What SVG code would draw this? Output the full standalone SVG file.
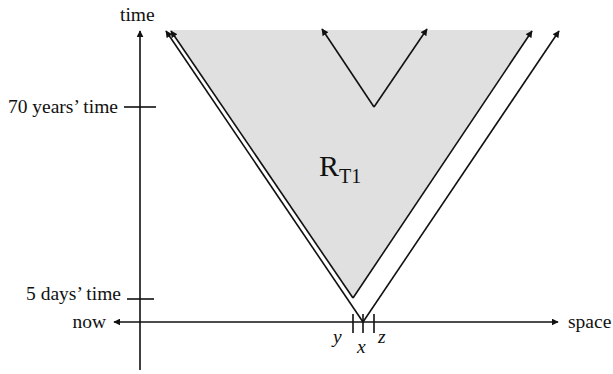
<svg xmlns="http://www.w3.org/2000/svg" width="613" height="374" viewBox="0 0 613 374">
<style>
.ln{stroke:#111;stroke-width:1.6;fill:none}
.t{font-family:"Liberation Serif",serif;font-size:19.5px;fill:#111}
.i{font-style:italic}
</style>
<defs>
<marker id="ah" viewBox="0 0 10 10" refX="9" refY="5" markerWidth="7" markerHeight="7" markerUnits="userSpaceOnUse" orient="auto-start-reverse">
<path d="M0,0 L10,5 L0,10 z" fill="#111"/>
</marker>
</defs>
<rect width="613" height="374" fill="#fff"/>
<g id="region">
<polygon points="170,30 533,30 353,298" fill="#e0e0e0"/>
<text x="319" y="176" style="font-family:'Liberation Serif',serif;font-size:30px;fill:#111">R<tspan font-size="20" dy="7">T1</tspan></text>
</g>
<g id="axes">
<line class="ln" x1="140" y1="370" x2="140" y2="31" marker-end="url(#ah)"/>
<line class="ln" x1="114" y1="322" x2="558" y2="322" marker-start="url(#ah)" marker-end="url(#ah)"/>
<line class="ln" x1="124" y1="107" x2="156" y2="107"/>
<line class="ln" x1="127" y1="299" x2="154" y2="299"/>
<line class="ln" x1="353" y1="314" x2="353" y2="333"/>
<line class="ln" x1="363" y1="314" x2="363" y2="333"/>
<line class="ln" x1="374" y1="314" x2="374" y2="333"/>
<text class="t" x="120" y="21">time</text>
<text class="t" x="118" y="113" text-anchor="end">70 years’ time</text>
<text class="t" x="121" y="300" text-anchor="end">5 days’ time</text>
<text class="t" x="106" y="328" text-anchor="end">now</text>
<text class="t" x="568" y="328">space</text>
<text class="t i" x="333" y="343">y</text>
<text class="t i" x="357" y="353">x</text>
<text class="t i" x="378" y="343">z</text>
</g>
<g id="connectors">
<line class="ln" x1="353" y1="298" x2="171" y2="31" marker-end="url(#ah)"/>
<line class="ln" x1="353" y1="298" x2="532" y2="31" marker-end="url(#ah)"/>
<line class="ln" x1="363" y1="322" x2="166" y2="31" marker-end="url(#ah)"/>
<line class="ln" x1="363" y1="322" x2="559" y2="31" marker-end="url(#ah)"/>
<line class="ln" x1="374" y1="107" x2="322" y2="29" marker-end="url(#ah)"/>
<line class="ln" x1="374" y1="107" x2="427" y2="29" marker-end="url(#ah)"/>
</g>
</svg>
